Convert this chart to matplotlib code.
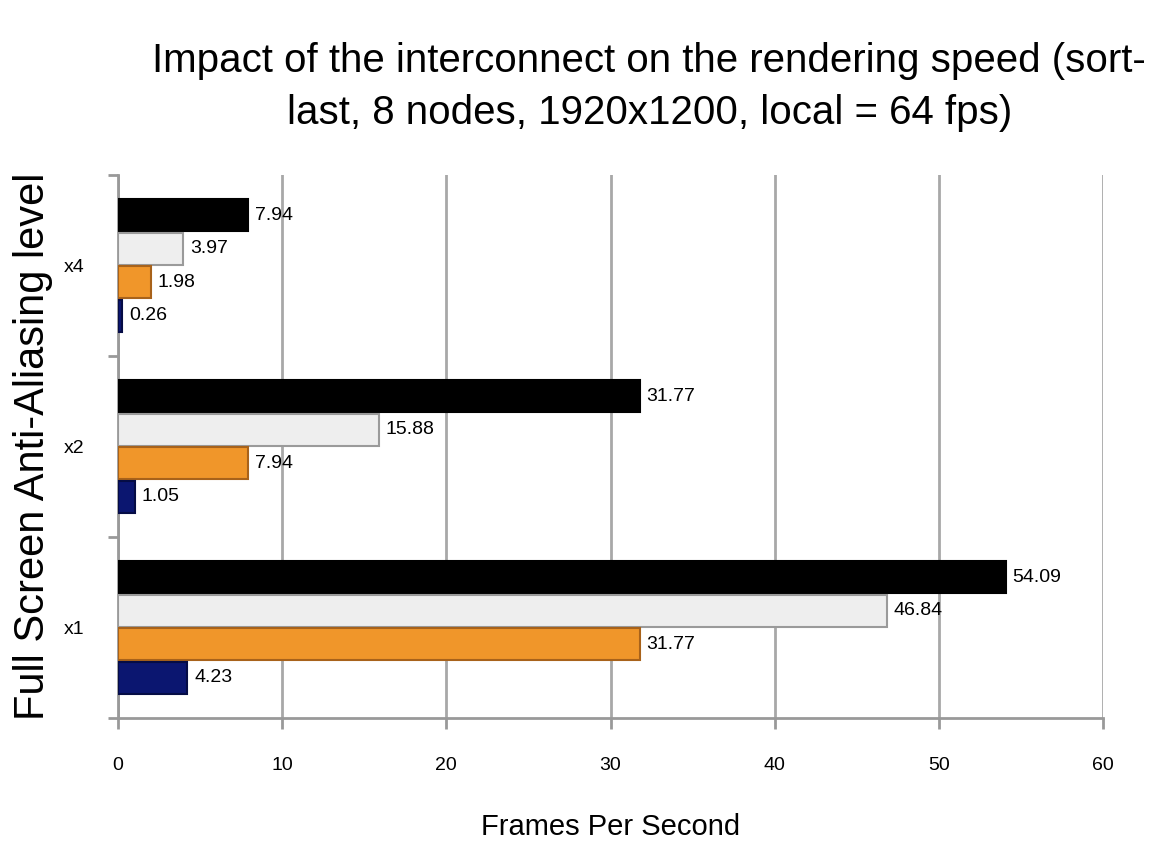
import matplotlib.pyplot as plt
import numpy as np

plt.rcParams['font.family'] = ['Liberation Sans Narrow', 'Liberation Sans', 'DejaVu Sans']

# --- Data ---
categories = ['x1', 'x2', 'x4']
series_colors = ['#000000', '#eeeeee', '#f0962a', '#0b1670']
series_edges = ['#000000', '#9a9a9a', '#a8621a', '#050c45']
# values per series, in category order x1, x2, x4
black_vals = [54.09, 31.77, 7.94]
white_vals = [46.84, 15.88, 3.97]
orange_vals = [31.77, 7.94, 1.98]
navy_vals = [4.23, 1.05, 0.26]
series = [black_vals, white_vals, orange_vals, navy_vals]
xticks = [0, 10, 20, 30, 40, 50, 60]

# --- Figure ---
fig = plt.figure(figsize=(11.49, 8.49), dpi=100)
ax = fig.add_axes([0.1027, 0.1543, 0.8573, 0.6396])

y = np.arange(len(categories))
h = 0.185
offsets = [1.5, 0.5, -0.5, -1.5]
for vals, fc, ec, off in zip(series, series_colors, series_edges, offsets):
    pos = y + off * h
    ax.barh(pos, vals, height=h * 0.95, color=fc, edgecolor=ec, linewidth=1.5, zorder=3)
    for p, v in zip(pos, vals):
        ax.text(v + 0.4, p, f'{v:.2f}', va='center', ha='left', fontsize=14, zorder=4)

ax.set_xlim(0, 60)
ax.set_ylim(-0.5, len(categories) - 0.5)
ax.set_xticks(xticks)
ax.set_xticklabels([str(t) for t in xticks], fontsize=14)
ax.set_yticks(y)
ax.set_yticklabels(categories, fontsize=14)
ax.set_yticks([-0.5, 0.5, 1.5, 2.5], minor=True)
ax.tick_params(axis='y', which='major', length=0, pad=24)
ax.tick_params(axis='y', which='minor', length=7, width=2, color='#999999')
ax.tick_params(axis='x', length=8, width=2, color='#999999', pad=20)

ax.grid(axis='x', color='#a8a8a8', linewidth=2, zorder=0)
for s in ['top', 'right']:
    ax.spines[s].set_visible(False)
for s in ['left', 'bottom']:
    ax.spines[s].set_color('#999999')
    ax.spines[s].set_linewidth(2)

ax.set_xlabel('Frames Per Second', fontsize=21, labelpad=28)
ax.set_ylabel('Full Screen Anti-Aliasing level', fontsize=30)
ax.yaxis.set_label_coords(-0.066, 0.5)

fig.suptitle('Impact of the interconnect on the rendering speed (sort-\nlast, 8 nodes, 1920x1200, local = 64 fps)',
             fontsize=29, x=0.565, y=0.95, linespacing=1.45)

fig.savefig('out.png', dpi=100)
